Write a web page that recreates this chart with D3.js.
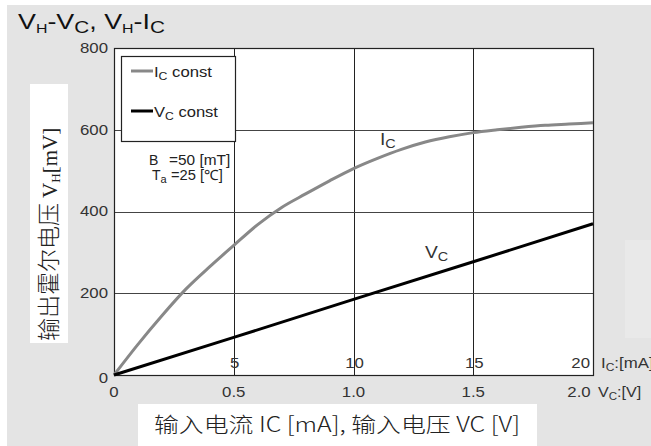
<!DOCTYPE html>
<html>
<head>
<meta charset="utf-8">
<script src="https://cdn.jsdelivr.net/npm/d3@7/dist/d3.min.js"></script>
<style>
  body { margin: 0; background: #fff; }
  svg { display: block; font-family: "Liberation Sans", Arial, sans-serif; }
  .tick-lbl { font-size: 14px; fill: #333; }
  .cjk { font-family: "Noto Sans CJK SC", sans-serif; font-weight: 300; }
</style>
</head>
<body>
<svg id="chart"></svg>
<script>
// Ic const curve: IC [mA] -> VH [mV]
const icCurrent = [0, 1, 2, 3, 4, 5, 6, 7, 8, 9, 10, 11, 12, 13, 14, 15, 16, 17, 18, 19, 20];
const icHall = [0, 75, 145, 210, 265, 317, 368, 410, 443, 475, 505, 530, 552, 570, 583, 593, 600, 606, 611, 614, 617];
// Vc const line: VC [V] -> VH [mV]
const vcVoltage = [0, 0.5, 1.0, 1.5, 2.0];
const vcHall = [0, 92, 185, 277, 370];

const yTicks = [0, 200, 400, 600, 800];
const iTicks = [5, 10, 15, 20];
const vTicks = ['0', '0.5', '1.0', '1.5', '2.0'];

const W = 651, H = 446;
const margin = {top: 48, right: 58, bottom: 71, left: 114};
const width = W - margin.left - margin.right;
const height = H - margin.top - margin.bottom;

const svg = d3.select('#chart').attr('width', W).attr('height', H);

// widen text the way the original (horizontally stretched) picture does
function stretch(sel, k) {
  sel.each(function () {
    const len = this.getComputedTextLength();
    d3.select(this).attr('textLength', len * k).attr('lengthAdjust', 'spacingAndGlyphs');
  });
}

svg.append('rect')
    .attr('x', 7).attr('y', 5).attr('width', W - 7).attr('height', H - 5)
    .attr('fill', '#e4e4e4');

// faint lighter patch at the right edge
svg.append('rect')
    .attr('x', 625).attr('y', 240).attr('width', 26).attr('height', 98)
    .attr('fill', '#e9e9e9');

// title
const title = svg.append('text')
    .attr('x', 18).attr('y', 29)
    .attr('font-size', 22).attr('fill', '#111');
title.append('tspan').text('V');
title.append('tspan').attr('font-size', 13).attr('dy', 4).text('H');
title.append('tspan').attr('dy', -4).text('-V');
title.append('tspan').attr('font-size', 17).attr('dy', 4).text('C');
title.append('tspan').attr('dy', -4).text(', V');
title.append('tspan').attr('font-size', 13).attr('dy', 4).text('H');
title.append('tspan').attr('dy', -4).text('-I');
title.append('tspan').attr('font-size', 17).attr('dy', 4).text('C');
title.attr('textLength', 147).attr('lengthAdjust', 'spacingAndGlyphs');

const g = svg.append('g')
    .attr('transform', `translate(${margin.left}, ${margin.top})`);

const xI = d3.scaleLinear().domain([0, 20]).range([0, width]);
const xV = d3.scaleLinear().domain([0, 2]).range([0, width]);
const y = d3.scaleLinear().domain([0, 800]).range([height, 0]);

g.append('rect')
    .attr('width', width).attr('height', height)
    .attr('fill', '#fff');

// grid
g.append('g')
    .selectAll('line')
    .data(iTicks.slice(0, -1))
  .join('line')
    .attr('x1', d => Math.round(xI(d)) + 0.5).attr('x2', d => Math.round(xI(d)) + 0.5)
    .attr('y1', 0).attr('y2', height)
    .attr('stroke', '#222').attr('stroke-width', 1);

g.append('g')
    .selectAll('line')
    .data(yTicks.slice(1, -1))
  .join('line')
    .attr('x1', 0).attr('x2', width)
    .attr('y1', d => Math.round(y(d)) + 0.5).attr('y2', d => Math.round(y(d)) + 0.5)
    .attr('stroke', '#444').attr('stroke-width', 1);

// frame
g.append('rect')
    .attr('x', 0.5).attr('y', 0.5)
    .attr('width', width).attr('height', height)
    .attr('fill', 'none').attr('stroke', '#222').attr('stroke-width', 1.2);

// y tick labels
g.append('g')
    .selectAll('text')
    .data(yTicks)
  .join('text')
    .attr('class', 'tick-lbl')
    .attr('x', -6).attr('y', d => y(d) + (d === 0 ? 3 : 0))
    .attr('dy', '0.35em')
    .attr('text-anchor', 'end')
    .text(d => d)
    .call(stretch, 1.2);

// Ic tick labels (inside plot)
g.append('g')
    .selectAll('text')
    .data(iTicks)
  .join('text')
    .attr('class', 'tick-lbl')
    .attr('x', d => d === 20 ? xI(d) - 3 : xI(d) + 1)
    .attr('y', height - 7)
    .attr('text-anchor', d => d === 20 ? 'end' : 'middle')
    .text(d => d)
    .call(stretch, 1.2);

// Vc tick labels (below plot)
g.append('g')
    .selectAll('text')
    .data(vTicks)
  .join('text')
    .attr('class', 'tick-lbl')
    .attr('x', d => xV(+d) - (+d === 2 ? 14 : 0))
    .attr('y', height + 22)
    .attr('text-anchor', 'middle')
    .text(d => d)
    .call(stretch, 1.2);

// unit labels at right
const iu = svg.append('text').attr('class', 'tick-lbl')
    .attr('x', 601).attr('y', 368);
iu.append('tspan').text('I');
iu.append('tspan').attr('font-size', 10).attr('dy', 3).text('C');
iu.append('tspan').attr('dy', -3).text(':[mA]');
iu.call(stretch, 1.2);

const vu = svg.append('text').attr('class', 'tick-lbl')
    .attr('x', 598).attr('y', 397);
vu.append('tspan').text('V');
vu.append('tspan').attr('font-size', 10).attr('dy', 3).text('C');
vu.append('tspan').attr('dy', -3).text(':[V]');
vu.call(stretch, 1.15);

// curves
const icLine = d3.line()
    .x((d, i) => xI(icCurrent[i]))
    .y(d => y(d))
    .curve(d3.curveMonotoneX);

g.append('path')
    .datum(icHall)
    .attr('d', icLine)
    .attr('fill', 'none')
    .attr('stroke', '#888')
    .attr('stroke-width', 3);

const vcLine = d3.line()
    .x((d, i) => xV(vcVoltage[i]))
    .y(d => y(d));

g.append('path')
    .datum(vcHall)
    .attr('d', vcLine)
    .attr('fill', 'none')
    .attr('stroke', '#000')
    .attr('stroke-width', 3);

// curve labels
const lblIc = svg.append('text').attr('fill', '#333').attr('font-size', 16)
    .attr('x', 380).attr('y', 145);
lblIc.append('tspan').text('I');
lblIc.append('tspan').attr('font-size', 12).attr('dy', 3).text('C');
lblIc.call(stretch, 1.2);

const lblVc = svg.append('text').attr('fill', '#333').attr('font-size', 16)
    .attr('x', 425).attr('y', 258);
lblVc.append('tspan').text('V');
lblVc.append('tspan').attr('font-size', 12).attr('dy', 3).text('C');
lblVc.call(stretch, 1.2);

// legend
const leg = svg.append('g').attr('transform', 'translate(121, 56)');
leg.append('rect')
    .attr('x', 0.5).attr('y', 0.5).attr('width', 114).attr('height', 85)
    .attr('fill', '#fff').attr('stroke', '#222').attr('stroke-width', 1.2);
const legItems = [
  {name: 'I', color: '#888', yy: 15, w: 58},
  {name: 'V', color: '#000', yy: 55, w: 64}
];
legItems.forEach(it => {
  leg.append('line')
      .attr('x1', 10).attr('x2', 32).attr('y1', it.yy).attr('y2', it.yy)
      .attr('stroke', it.color).attr('stroke-width', 3);
  const t = leg.append('text').attr('x', 33).attr('y', it.yy + 6)
      .attr('font-size', 15).attr('fill', '#222');
  t.append('tspan').text(it.name);
  t.append('tspan').attr('font-size', 11).attr('dy', 3).text('C');
  t.append('tspan').attr('dy', -3).text(' const');
  t.attr('textLength', it.w).attr('lengthAdjust', 'spacingAndGlyphs');
});

// conditions
const condStyle = s => s.attr('font-size', 14).attr('fill', '#222');
svg.append('text').attr('x', 149).attr('y', 165).call(condStyle).text('B');
svg.append('text').attr('x', 169).attr('y', 165).call(condStyle).text('=50 [mT]').call(stretch, 1.1);
const ta = svg.append('text').attr('x', 152).attr('y', 180).call(condStyle);
ta.append('tspan').text('T');
ta.append('tspan').attr('font-size', 11).attr('dy', 3).text('a');
svg.append('text').attr('x', 171).attr('y', 180).call(condStyle).text('=25 [℃]').call(stretch, 1.05);

// y axis title
svg.append('rect')
    .attr('x', 30).attr('y', 84).attr('width', 38).attr('height', 259)
    .attr('fill', '#fff');
const yt = svg.append('text')
    .attr('transform', 'translate(57, 341) rotate(-90)')
    .attr('text-anchor', 'start')
    .attr('font-size', 21).attr('fill', '#222');
yt.append('tspan').attr('class', 'cjk').attr('font-size', 23).text('输出霍尔电压 ');
yt.append('tspan').attr('font-family', '"Liberation Serif", serif').text('V');
yt.append('tspan').attr('font-family', '"Liberation Serif", serif').attr('font-size', 13).attr('dy', 3).text('H');
yt.append('tspan').attr('font-family', '"Liberation Serif", serif').attr('dy', -3).text('[mV]');

// x axis title
svg.append('rect')
    .attr('x', 138).attr('y', 404).attr('width', 399).attr('height', 42)
    .attr('fill', '#fff');
svg.append('text')
    .attr('class', 'cjk')
    .attr('x', 337).attr('y', 432)
    .attr('text-anchor', 'middle')
    .attr('font-size', 21).attr('fill', '#222')
    .attr('textLength', 366).attr('lengthAdjust', 'spacingAndGlyphs')
    .text('输入电流 IC [mA], 输入电压 VC [V]');
</script>
</body>
</html>
